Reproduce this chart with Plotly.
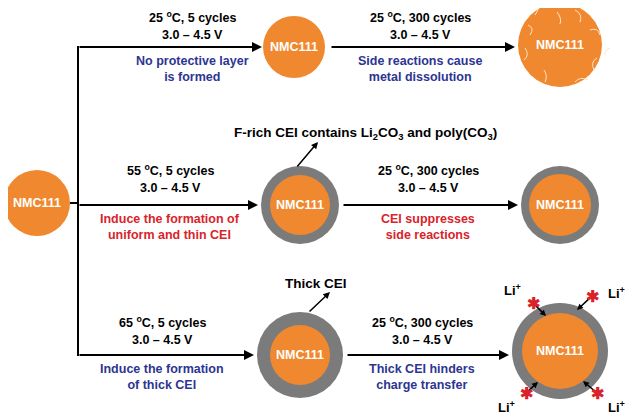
import plotly.graph_objects as go

ORANGE = "#F0882F"; GRAY = "#7b7b7b"; BLUE = "#2d3592"; RED = "#d9232a"
FONT = "Liberation Sans"

# particles: (cx, cy, outer_r, inner_r)
particles = [(37, 203, 33, 33), (294, 47, 31, 31), (560, 45, 42, 42),
             (300, 205, 39, 30), (560, 205, 39, 31),
             (300, 355, 43, 30), (560, 351, 48, 38)]
conditions = [("25 <sup>o</sup>C, 5 cycles", 192, 17), ("25 <sup>o</sup>C, 300 cycles", 420, 17),
              ("55 <sup>o</sup>C, 5 cycles", 170, 170), ("25 <sup>o</sup>C, 300 cycles", 428, 170),
              ("65 <sup>o</sup>C, 5 cycles", 162, 322), ("25 <sup>o</sup>C, 300 cycles", 422, 322)]
notes = [("No protective layer<br>is formed", 192, 69, BLUE),
         ("Side reactions cause<br>metal dissolution", 420, 69, BLUE),
         ("Induce the formation of<br>uniform and thin CEI", 170, 227, RED),
         ("CEI suppresses<br>side reactions", 428, 227, RED),
         ("Induce the formation<br>of thick CEI", 162, 377, BLUE),
         ("Thick CEI hinders<br>charge transfer", 422, 377, BLUE)]
arrows = [(78, 47, 262, 47), (78, 205, 258, 205), (78, 355, 254, 355),
          (330, 47, 515, 47), (342, 205, 518, 205), (346, 355, 509, 355)]
li_labels = [(512, 290), (616, 293), (506, 407), (616, 407)]
x_marks = [(533, 303), (592, 296), (526, 393), (597, 393)]
li_arrows = [(533, 303, 546, 316), (592, 296, 577, 310), (526, 393, 538, 382), (597, 393, 583, 381)]
cracks = [(535, 15, 540, 8, 538, 2), (575, 10, 583, 14, 580, 22), (590, 30, 598, 27, 600, 35),
          (597, 58, 590, 62, 594, 70), (575, 82, 580, 76, 588, 80), (545, 82, 548, 76, 544, 70),
          (524, 60, 530, 55, 525, 48), (528, 25, 535, 28, 530, 35), (557, 12, 562, 18, 560, 24),
          (610, 48, 604, 50, 605, 55)]

fig = go.Figure()
shapes = []
for cx, cy, ro, ri in particles:
    if ro > ri:
        shapes.append(dict(type="circle", x0=cx-ro, x1=cx+ro, y0=cy-ro, y1=cy+ro,
                           fillcolor=GRAY, line=dict(width=0), layer="above"))
    shapes.append(dict(type="circle", x0=cx-ri, x1=cx+ri, y0=cy-ri, y1=cy+ri,
                       fillcolor=ORANGE, line=dict(width=0), layer="above"))
for a in cracks:
    shapes.append(dict(type="path", path=f"M{a[0]},{a[1]} Q{a[2]},{a[3]} {a[4]},{a[5]}",
                       line=dict(color="#ffe2c4", width=1), layer="above"))
shapes.append(dict(type="line", x0=70, y0=203, x1=78, y1=203, line=dict(color="black", width=2)))
shapes.append(dict(type="line", x0=78, y0=46, x1=78, y1=356, line=dict(color="black", width=2)))
fig.update_layout(shapes=shapes)

ann = []
def arrow(x0, y0, x1, y1, size=1.0, w=2):
    ann.append(dict(x=x1, y=y1, ax=x0, ay=y0, xref="x", yref="y", axref="x", ayref="y",
                    showarrow=True, arrowhead=2, arrowsize=size, arrowwidth=w, arrowcolor="black", text=""))
for a in arrows:
    arrow(*a)
arrow(296, 168, 318, 142, 0.9, 1.5)
arrow(308, 313, 330, 292, 0.9, 1.5)
for a in li_arrows:
    arrow(*a, 0.8, 1.5)
def txt(t, x, y, color="black", size=12.5):
    ann.append(dict(x=x, y=y, text=t, showarrow=False, xref="x", yref="y",
                    font=dict(family=FONT, size=size, color=color)))
for cx, cy, ro, ri in particles:
    txt("<b>NMC111</b>", cx, cy, "white", 12.5)
for t, x, y in conditions:
    txt(f"<b>{t}</b>", x, y)
    txt("<b>3.0 – 4.5 V</b>", x, y + 18)
for t, x, y, c in notes:
    txt(f"<b>{t}</b>", x, y, c)
txt("<b>F-rich CEI contains Li<sub>2</sub>CO<sub>3</sub> and poly(CO<sub>3</sub>)</b>", 365, 133, size=13.5)
txt("<b>Thick CEI</b>", 316, 283, size=13.5)
for x, y in li_labels:
    txt("<b>Li<sup>+</sup></b>", x, y, size=13)
for x, y in x_marks:
    txt("<b>✱</b>", x, y, RED, 16)
fig.update_layout(annotations=ann)

# the page body adds an 8 px margin, so the figure is 8 px smaller and starts at 8
fig.update_layout(width=625, height=409, margin=dict(l=0, r=0, t=0, b=0),
                  plot_bgcolor="white", paper_bgcolor="white", showlegend=False,
                  xaxis=dict(range=[8, 633], visible=False, fixedrange=True),
                  yaxis=dict(range=[417, 8], visible=False, fixedrange=True))
fig.write_html("out.html")
